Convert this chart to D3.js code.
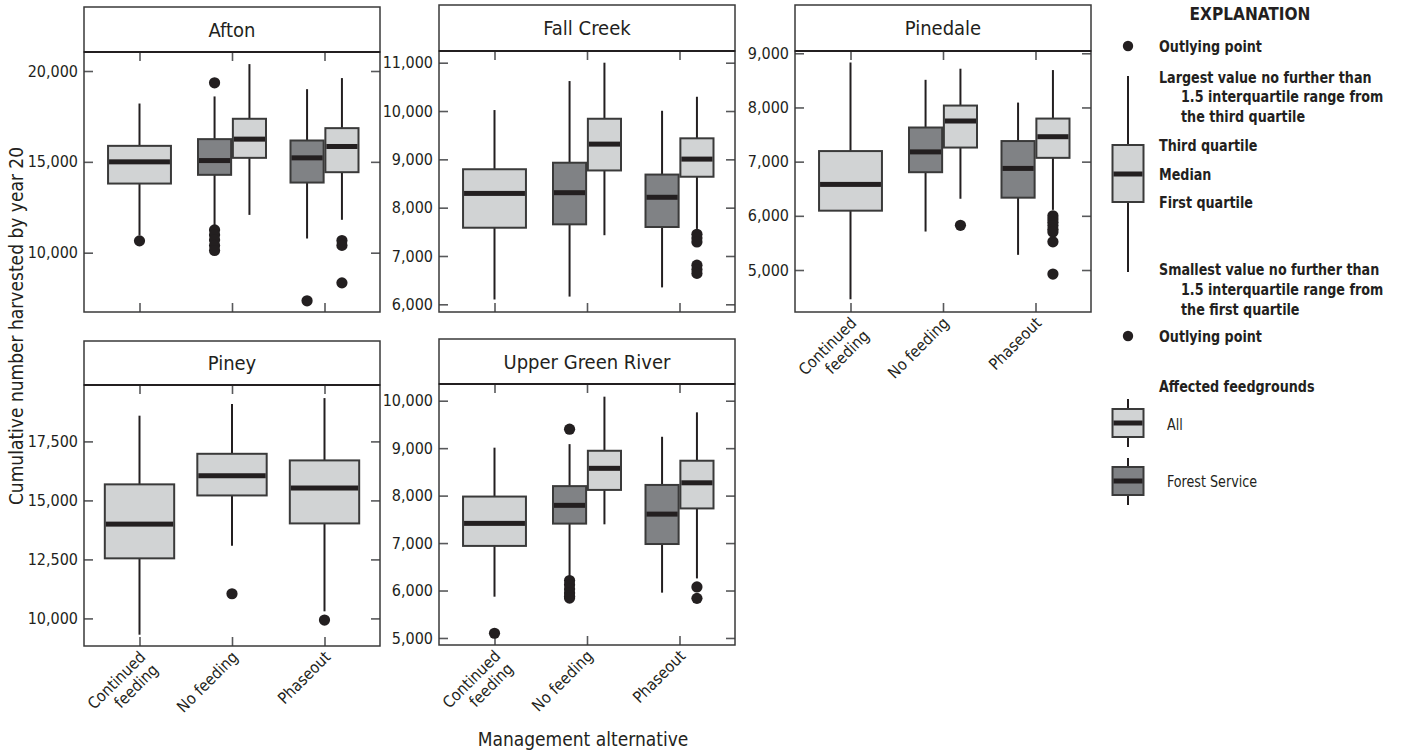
<!DOCTYPE html>
<html>
<head>
<meta charset="utf-8">
<script src="https://cdn.jsdelivr.net/npm/d3@7/dist/d3.min.js"></script>
<style>
  body { margin: 0; background: #fff; }
  svg { display: block; }
</style>
</head>
<body>
<svg id="chart" width="1402" height="755"></svg>
<script>
// ---- data -----------------------------------------------------------------
const sites = ["Afton", "Fall Creek", "Pinedale", "Piney", "Upper Green River"];
const alternatives = ["Continued feeding", "No feeding", "Phaseout"];
const groups = ["Forest Service", "All"];

// box rows: [alternative, affected feedgrounds, lower whisker, Q1, median, Q3, upper whisker]
const aftonBoxes = [
  ["Continued feeding", "All",            10950, 13805, 15000, 15880, 18210],
  ["No feeding",        "Forest Service", 11440, 14285, 15070, 16250, 18600],
  ["No feeding",        "All",            12080, 15220, 16250, 17370, 20380],
  ["Phaseout",          "Forest Service", 10780, 13860, 15220, 16175, 19000],
  ["Phaseout",          "All",            11810, 14430, 15845, 16855, 19610]
];
const fallCreekBoxes = [
  ["Continued feeding", "All",            6100, 7585, 8295, 8795, 10020],
  ["No feeding",        "Forest Service", 6160, 7655, 8310, 8930, 10620],
  ["No feeding",        "All",            7430, 8770, 9315, 9840, 11000],
  ["Phaseout",          "Forest Service", 6350, 7600, 8215, 8685, 10005],
  ["Phaseout",          "All",            7560, 8640, 9005, 9435, 10295]
];
const pinedaleBoxes = [
  ["Continued feeding", "All",            4460, 6095, 6580, 7195, 8830],
  ["No feeding",        "Forest Service", 5710, 6805, 7180, 7630, 8510],
  ["No feeding",        "All",            6315, 7260, 7750, 8035, 8715],
  ["Phaseout",          "Forest Service", 5280, 6335, 6875, 7380, 8090],
  ["Phaseout",          "All",            6110, 7070, 7460, 7795, 8690]
];
const pineyBoxes = [
  ["Continued feeding", "All", 9310,  12545, 13995, 15680, 18590],
  ["No feeding",        "All", 13080, 15210, 16045, 16975, 19080],
  ["Phaseout",          "All", 10300, 14025, 15525, 16695, 19335]
];
const upperGreenBoxes = [
  ["Continued feeding", "All",            5870, 6940, 7415, 7980, 9010],
  ["No feeding",        "Forest Service", 6280, 7410, 7795, 8200, 9085],
  ["No feeding",        "All",            7395, 8120, 8575, 8945, 10085],
  ["Phaseout",          "Forest Service", 5955, 6980, 7610, 8225, 9240],
  ["Phaseout",          "All",            6255, 7730, 8270, 8735, 9755]
];

// outlier rows: [alternative, affected feedgrounds, value]
const aftonOutliers = [
  ["Continued feeding", "All", 10650],
  ["No feeding", "Forest Service", 19350], ["No feeding", "Forest Service", 11250],
  ["No feeding", "Forest Service", 10980], ["No feeding", "Forest Service", 10700],
  ["No feeding", "Forest Service", 10400], ["No feeding", "Forest Service", 10120],
  ["Phaseout", "Forest Service", 7350],
  ["Phaseout", "All", 10670], ["Phaseout", "All", 10400], ["Phaseout", "All", 8340]
];
const fallCreekOutliers = [
  ["Phaseout", "All", 7450], ["Phaseout", "All", 7370], ["Phaseout", "All", 7290],
  ["Phaseout", "All", 6810], ["Phaseout", "All", 6720], ["Phaseout", "All", 6640]
];
const pinedaleOutliers = [
  ["No feeding", "All", 5825],
  ["Phaseout", "All", 6000], ["Phaseout", "All", 5940], ["Phaseout", "All", 5880],
  ["Phaseout", "All", 5820], ["Phaseout", "All", 5750], ["Phaseout", "All", 5700],
  ["Phaseout", "All", 5520], ["Phaseout", "All", 4925]
];
const pineyOutliers = [
  ["No feeding", "All", 11045],
  ["Phaseout", "All", 9930]
];
const upperGreenOutliers = [
  ["Continued feeding", "All", 5100],
  ["No feeding", "Forest Service", 9400], ["No feeding", "Forest Service", 6210],
  ["No feeding", "Forest Service", 6120], ["No feeding", "Forest Service", 6030],
  ["No feeding", "Forest Service", 5950], ["No feeding", "Forest Service", 5880],
  ["No feeding", "Forest Service", 5840],
  ["Phaseout", "All", 6075], ["Phaseout", "All", 5835]
];

// y-axis tick labels and axis extents per site
const aftonTicks = [10000, 15000, 20000];
const fallCreekTicks = [6000, 7000, 8000, 9000, 10000, 11000];
const pinedaleTicks = [5000, 6000, 7000, 8000, 9000];
const pineyTicks = [10000, 12500, 15000, 17500];
const upperGreenTicks = [5000, 6000, 7000, 8000, 9000, 10000];
const yExtents = [[6735, 21046], [5841, 11242], [4225, 9042], [8831, 19890], [4852, 10352]];

const boxSets = [aftonBoxes, fallCreekBoxes, pinedaleBoxes, pineyBoxes, upperGreenBoxes];
const outlierSets = [aftonOutliers, fallCreekOutliers, pinedaleOutliers, pineyOutliers, upperGreenOutliers];
const tickSets = [aftonTicks, fallCreekTicks, pinedaleTicks, pineyTicks, upperGreenTicks];

const yTitle = "Cumulative number harvested by year 20";
const xTitle = "Management alternative";

// ---- layout & style --------------------------------------------------------
const FONT = "'Liberation Sans Narrow','Arial Narrow','DejaVu Sans Condensed',sans-serif";
const FILL = { "All": "#d1d3d4", "Forest Service": "#808285" };
const INK = "#231f20";
const FRAME = "#3a3a3a";
const TICK = "#58595b";

const panelLayout = [
  { left: 84,  top: 7,   head: 52,  bottom: 312, width: 296, xLabels: false, single: 0.68 },
  { left: 439, top: 5,   head: 51,  bottom: 312, width: 296, xLabels: false, single: 0.68 },
  { left: 795, top: 5,   head: 51,  bottom: 312, width: 296, xLabels: true,  single: 0.68 },
  { left: 84,  top: 341, head: 385, bottom: 646, width: 296, xLabels: true,  single: 0.75 },
  { left: 439, top: 339, head: 384, bottom: 645, width: 296, xLabels: true,  single: 0.68 }
];

const svg = d3.select("#chart");
svg.append("rect").attr("width", 1402).attr("height", 755).attr("fill", "#fff");

const fmt = d3.format(",");

sites.forEach((site, i) => {
  const L = panelLayout[i];
  const g = svg.append("g").attr("class", "panel");
  const x = d3.scalePoint().domain(alternatives).range([L.left, L.left + L.width]).padding(0.6);
  const y = d3.scaleLinear().domain(yExtents[i]).range([L.bottom, L.head]);
  const sub = d3.scaleBand().domain(groups).range([-34, 34]).paddingInner(0.05);

  // strip header
  g.append("rect")
    .attr("x", L.left).attr("y", L.top)
    .attr("width", L.width).attr("height", L.head - L.top)
    .attr("fill", "#fff").attr("stroke", FRAME).attr("stroke-width", 1.5);
  g.append("text")
    .attr("x", L.left + L.width / 2).attr("y", (L.top + L.head) / 2 + 7)
    .attr("text-anchor", "middle")
    .attr("font-family", FONT).attr("font-size", 20).attr("fill", INK)
    .text(site);

  // axes with inward ticks
  const yl = g.append("g").attr("transform", `translate(${L.left},0)`)
    .call(d3.axisLeft(y).tickValues(tickSets[i]).tickFormat(fmt).tickSize(-9).tickPadding(6));
  const yr = g.append("g").attr("transform", `translate(${L.left + L.width},0)`)
    .call(d3.axisRight(y).tickValues(tickSets[i]).tickFormat("").tickSize(-9));
  const xt = g.append("g").attr("transform", `translate(0,${L.head})`)
    .call(d3.axisTop(x).tickFormat("").tickSize(-9));
  const xb = g.append("g").attr("transform", `translate(0,${L.bottom})`)
    .call(d3.axisBottom(x).tickFormat("").tickSize(-9));
  [yl, yr, xt, xb].forEach(a => {
    a.select(".domain").remove();
    a.selectAll(".tick line").attr("stroke", TICK).attr("stroke-width", 1.6);
  });
  yl.selectAll(".tick text")
    .attr("font-family", FONT).attr("font-size", 16).attr("fill", INK);

  // plot frame
  g.append("rect")
    .attr("x", L.left).attr("y", L.head)
    .attr("width", L.width).attr("height", L.bottom - L.head)
    .attr("fill", "none").attr("stroke", FRAME).attr("stroke-width", 1.5);
  g.append("line")
    .attr("x1", L.left).attr("x2", L.left + L.width)
    .attr("y1", L.head).attr("y2", L.head)
    .attr("stroke", INK).attr("stroke-width", 2.2);

  // box geometry
  const rows = boxSets[i].map(r => ({
    alt: r[0], grp: r[1], lo: r[2], q1: r[3], med: r[4], q3: r[5], hi: r[6]
  }));
  const paired = alt => rows.filter(r => r.alt === alt).length > 1;
  const span = r => {
    if (paired(r.alt)) {
      const x0 = x(r.alt) + sub(r.grp);
      return [x0, x0 + sub.bandwidth()];
    }
    const w = x.step() * L.single;
    return [x(r.alt) - w / 2, x(r.alt) + w / 2];
  };

  const boxes = g.append("g").selectAll("g").data(rows).join("g");
  boxes.append("line")
    .attr("x1", r => d3.mean(span(r))).attr("x2", r => d3.mean(span(r)))
    .attr("y1", r => y(r.lo)).attr("y2", r => y(r.hi))
    .attr("stroke", INK).attr("stroke-width", 2);
  boxes.append("rect")
    .attr("x", r => span(r)[0]).attr("width", r => span(r)[1] - span(r)[0])
    .attr("y", r => y(r.q3)).attr("height", r => y(r.q1) - y(r.q3))
    .attr("fill", r => FILL[r.grp]).attr("stroke", FRAME).attr("stroke-width", 2);
  boxes.append("rect")
    .attr("x", r => span(r)[0] + 1).attr("width", r => span(r)[1] - span(r)[0] - 2)
    .attr("y", r => y(r.med) - 2.5).attr("height", 5)
    .attr("fill", INK);

  // outliers
  const outs = outlierSets[i].map(o => ({ alt: o[0], grp: o[1], v: o[2] }));
  g.append("g").selectAll("circle").data(outs).join("circle")
    .attr("cx", o => d3.mean(span(rows.find(r => r.alt === o.alt && r.grp === o.grp))))
    .attr("cy", o => y(o.v))
    .attr("r", 5.6)
    .attr("fill", INK);

  // rotated category labels
  if (L.xLabels) {
    alternatives.forEach(alt => {
      const words = alt === "Continued feeding" ? ["Continued", "feeding"] : [alt];
      const t = g.append("text")
        .attr("transform", `translate(${x(alt) + 7},${L.bottom + 12}) rotate(-45)`)
        .attr("text-anchor", "end")
        .attr("font-family", FONT).attr("font-size", 16).attr("fill", INK);
      words.forEach((w, k) => {
        t.append("tspan").attr("x", 0).attr("dy", k === 0 ? 0 : "1.12em").text(w);
      });
    });
  }
});

// axis titles
svg.append("text")
  .attr("transform", "translate(23,326) rotate(-90)")
  .attr("text-anchor", "middle")
  .attr("font-family", FONT).attr("font-size", 19).attr("fill", INK)
  .text(yTitle);
svg.append("text")
  .attr("x", 583).attr("y", 746)
  .attr("text-anchor", "middle")
  .attr("font-family", FONT).attr("font-size", 19).attr("fill", INK)
  .text(xTitle);

// ---- explanation -----------------------------------------------------------
const lg = svg.append("g").attr("class", "explanation");
// explanation text is set tight (horizontally condensed) like the panel labels
const keyText = (txt, tx, ty, weight) => lg.append("text")
  .attr("transform", `translate(${tx},${ty}) scale(0.885,1)`)
  .attr("dy", "0.35em")
  .attr("font-family", FONT).attr("font-weight", weight).attr("font-size", 16)
  .attr("fill", INK).text(txt);
const bold = (txt, tx, ty) => keyText(txt, tx, ty, "bold");
const plain = (txt, tx, ty) => keyText(txt, tx, ty, "normal");

lg.append("text")
  .attr("transform", "translate(1250,19.5) scale(0.95,1)")
  .attr("text-anchor", "middle")
  .attr("font-family", FONT).attr("font-weight", "bold").attr("font-size", 18)
  .attr("fill", INK).text("EXPLANATION");

const drawKey = (cx, w0, w1, b0, b1, m, fill) => {
  lg.append("line").attr("x1", cx).attr("x2", cx).attr("y1", w0).attr("y2", w1)
    .attr("stroke", INK).attr("stroke-width", 2);
  lg.append("rect").attr("x", cx - 15.5).attr("width", 31).attr("y", b0).attr("height", b1 - b0)
    .attr("fill", fill).attr("stroke", FRAME).attr("stroke-width", 2);
  lg.append("rect").attr("x", cx - 14.5).attr("width", 29).attr("y", m - 2.5).attr("height", 5)
    .attr("fill", INK);
};

lg.append("circle").attr("cx", 1128).attr("cy", 46).attr("r", 5.2).attr("fill", INK);
bold("Outlying point", 1159, 46);
drawKey(1128, 76, 272, 145, 202, 174, FILL["All"]);
bold("Largest value no further than", 1159, 77);
bold("1.5 interquartile range from", 1181, 96);
bold("the third quartile", 1181, 116);
bold("Third quartile", 1159, 145);
bold("Median", 1159, 174);
bold("First quartile", 1159, 202);
bold("Smallest value no further than", 1159, 269);
bold("1.5 interquartile range from", 1181, 289);
bold("the first quartile", 1181, 309);
lg.append("circle").attr("cx", 1128).attr("cy", 336).attr("r", 5.2).attr("fill", INK);
bold("Outlying point", 1159, 336);
bold("Affected feedgrounds", 1159, 386);
drawKey(1128, 399, 447, 409, 437, 423, FILL["All"]);
plain("All", 1167, 424);
drawKey(1128, 458, 505, 467, 495, 481, FILL["Forest Service"]);
plain("Forest Service", 1167, 481);
</script>
</body>
</html>
